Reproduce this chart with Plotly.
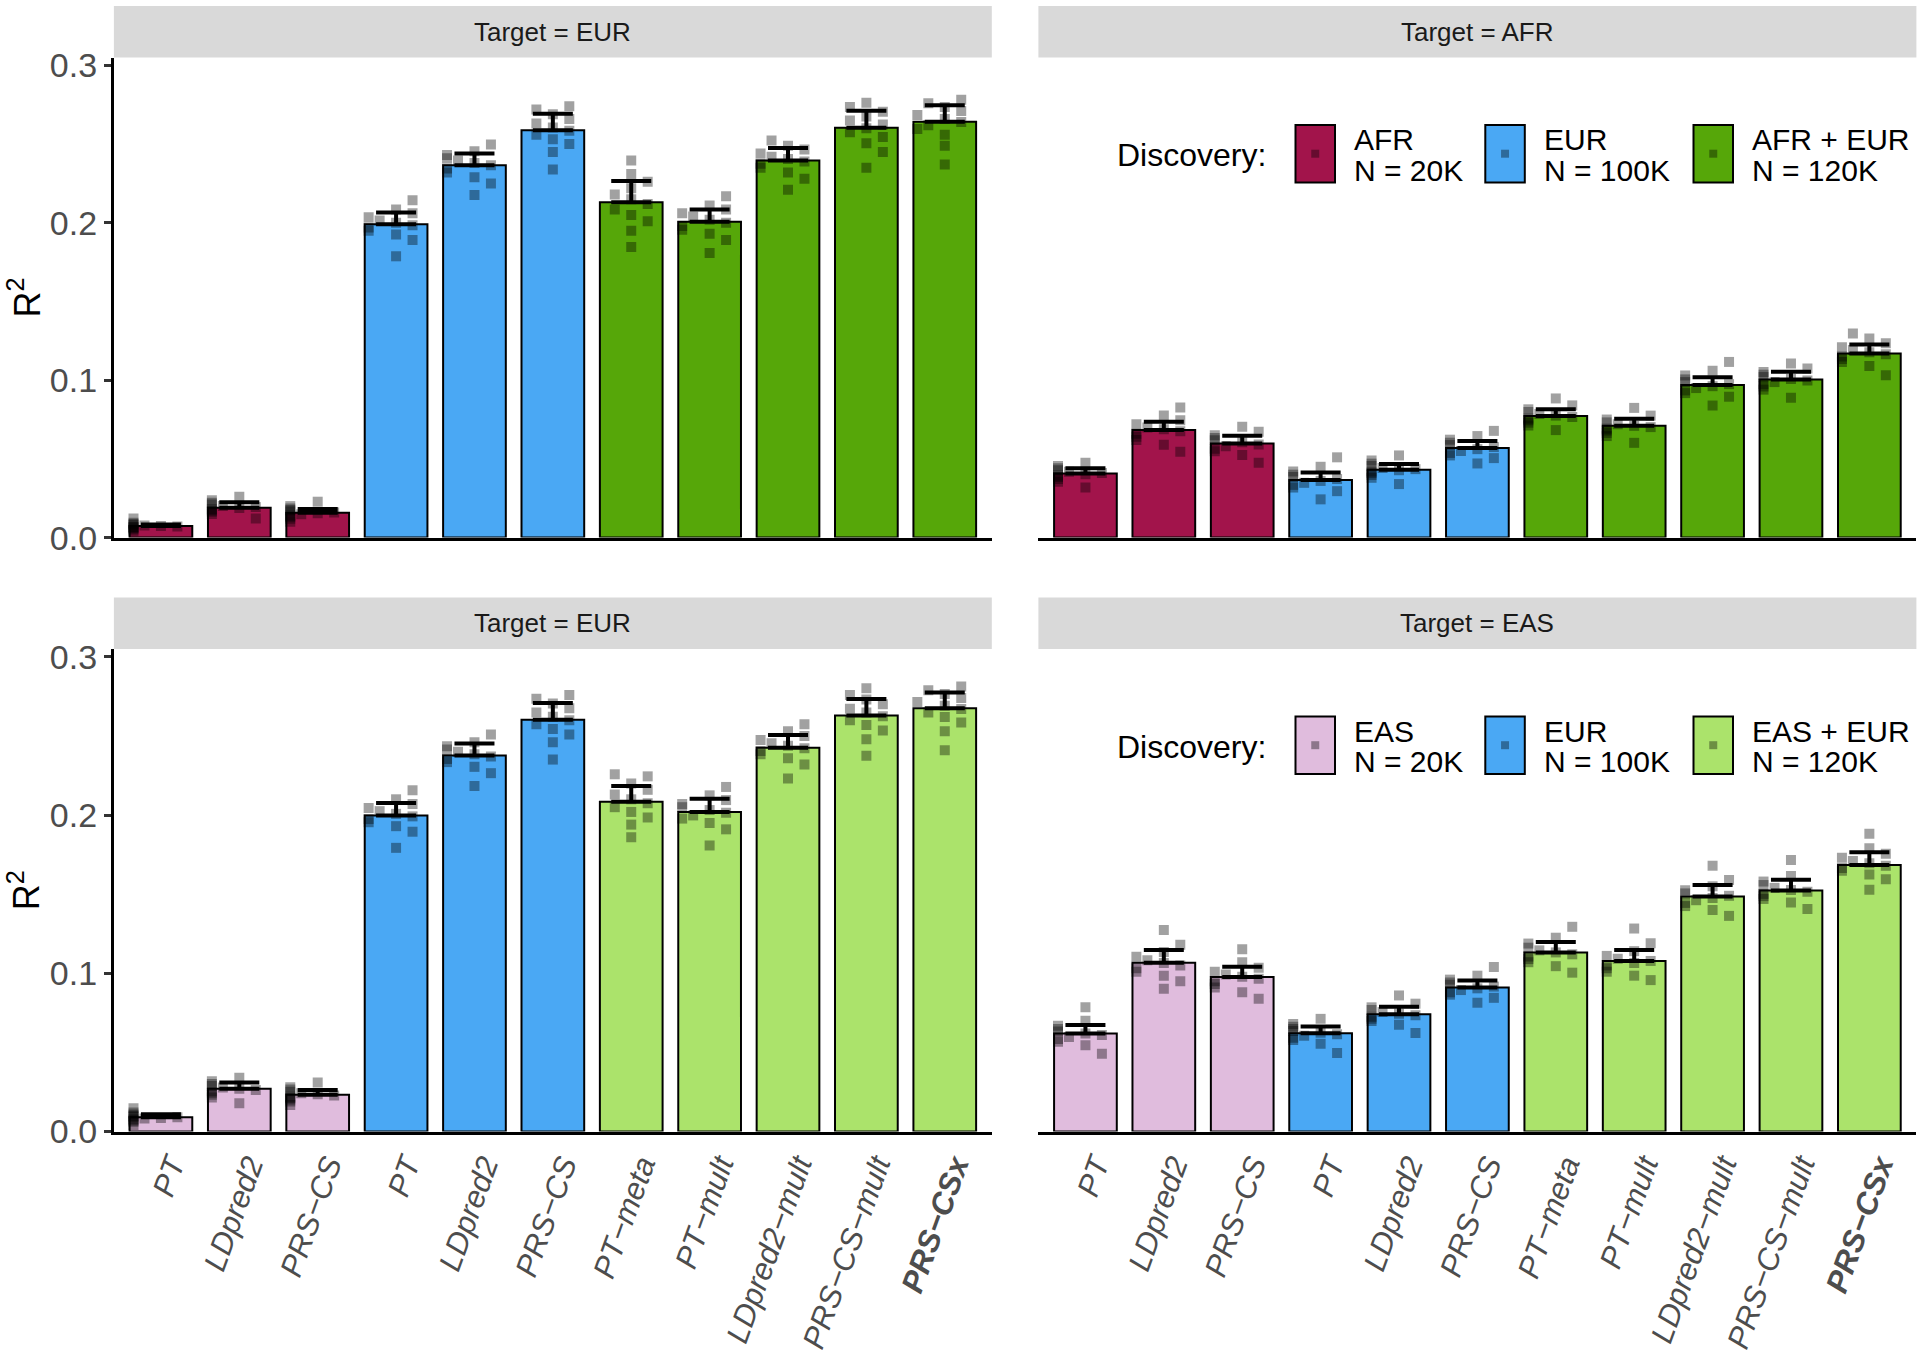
import numpy as np
import plotly.graph_objects as go

# methods along the x axis (same for all four panels)
METHODS = ["PT", "LDpred2", "PRS−CS", "PT", "LDpred2", "PRS−CS",
           "PT−meta", "PT−mult", "LDpred2−mult", "PRS−CS−mult", "PRS−CSx"]
# which discovery sample each bar uses: 0 = non-EUR only, 1 = EUR only, 2 = both
GROUP = [0, 0, 0, 1, 1, 1, 2, 2, 2, 2, 2]

# --- AFR discovery, target EUR (top left)
AFR_TEUR_R2 = [0.0074, 0.0190, 0.0158, 0.1990, 0.2365, 0.2588, 0.2131, 0.2006, 0.2396, 0.2604, 0.2642]
AFR_TEUR_UP = [0.0084, 0.0224, 0.0181, 0.2065, 0.2440, 0.2693, 0.2265, 0.2085, 0.2475, 0.2712, 0.2747]
AFR_TEUR_REPS = [
    [0.0122, 0.0094, 0.0086, 0.0080, 0.0077, 0.0074, 0.0071, 0.0068, 0.0064, 0.0060, 0.0052, 0.0040],
    [0.0260, 0.0238, 0.0222, 0.0210, 0.0200, 0.0194, 0.0188, 0.0180, 0.0172, 0.0164, 0.0150, 0.0122],
    [0.0228, 0.0200, 0.0185, 0.0175, 0.0166, 0.0160, 0.0154, 0.0148, 0.0140, 0.0132, 0.0120, 0.0101],
    [0.2143, 0.2085, 0.2060, 0.2035, 0.2015, 0.2000, 0.1985, 0.1970, 0.1950, 0.1925, 0.1890, 0.1787],
    [0.2498, 0.2455, 0.2430, 0.2410, 0.2395, 0.2380, 0.2365, 0.2345, 0.2320, 0.2290, 0.2250, 0.2176],
    [0.2741, 0.2720, 0.2690, 0.2660, 0.2630, 0.2605, 0.2585, 0.2560, 0.2530, 0.2500, 0.2450, 0.2339],
    [0.2396, 0.2310, 0.2260, 0.2220, 0.2180, 0.2150, 0.2120, 0.2085, 0.2050, 0.2010, 0.1950, 0.1846],
    [0.2168, 0.2110, 0.2085, 0.2060, 0.2040, 0.2020, 0.2000, 0.1980, 0.1955, 0.1930, 0.1890, 0.1808],
    [0.2523, 0.2490, 0.2465, 0.2440, 0.2420, 0.2405, 0.2390, 0.2375, 0.2350, 0.2320, 0.2280, 0.2210],
    [0.2762, 0.2735, 0.2705, 0.2675, 0.2650, 0.2625, 0.2600, 0.2575, 0.2545, 0.2505, 0.2450, 0.2350],
    [0.2782, 0.2760, 0.2735, 0.2710, 0.2685, 0.2660, 0.2640, 0.2620, 0.2595, 0.2560, 0.2490, 0.2371],
]

# --- AFR discovery, target AFR (top right)
AFR_TAFR_R2 = [0.0408, 0.0683, 0.0598, 0.0366, 0.0431, 0.0569, 0.0772, 0.0710, 0.0970, 0.1004, 0.1170]
AFR_TAFR_UP = [0.0440, 0.0736, 0.0647, 0.0414, 0.0467, 0.0613, 0.0816, 0.0755, 0.1019, 0.1053, 0.1227]
AFR_TAFR_REPS = [
    [0.0475, 0.0455, 0.0440, 0.0428, 0.0418, 0.0410, 0.0402, 0.0394, 0.0385, 0.0372, 0.0355, 0.0319],
    [0.0827, 0.0775, 0.0745, 0.0720, 0.0700, 0.0688, 0.0675, 0.0660, 0.0640, 0.0620, 0.0590, 0.0545],
    [0.0704, 0.0672, 0.0650, 0.0632, 0.0618, 0.0605, 0.0592, 0.0580, 0.0565, 0.0548, 0.0525, 0.0475],
    [0.0510, 0.0450, 0.0420, 0.0400, 0.0385, 0.0372, 0.0360, 0.0348, 0.0335, 0.0318, 0.0295, 0.0243],
    [0.0522, 0.0490, 0.0470, 0.0455, 0.0442, 0.0435, 0.0428, 0.0420, 0.0410, 0.0398, 0.0380, 0.0340],
    [0.0678, 0.0645, 0.0622, 0.0603, 0.0588, 0.0575, 0.0562, 0.0550, 0.0538, 0.0522, 0.0505, 0.0471],
    [0.0884, 0.0840, 0.0815, 0.0798, 0.0785, 0.0775, 0.0766, 0.0756, 0.0745, 0.0730, 0.0712, 0.0683],
    [0.0824, 0.0775, 0.0750, 0.0732, 0.0720, 0.0710, 0.0702, 0.0692, 0.0680, 0.0665, 0.0645, 0.0602],
    [0.1116, 0.1060, 0.1030, 0.1005, 0.0988, 0.0975, 0.0962, 0.0950, 0.0935, 0.0918, 0.0895, 0.0839],
    [0.1106, 0.1075, 0.1052, 0.1035, 0.1020, 0.1008, 0.0998, 0.0988, 0.0975, 0.0960, 0.0940, 0.0888],
    [0.1297, 0.1265, 0.1235, 0.1210, 0.1192, 0.1178, 0.1165, 0.1150, 0.1135, 0.1115, 0.1090, 0.1032],
]

# --- EAS discovery, target EUR (bottom left)
EAS_TEUR_R2 = [0.0090, 0.0270, 0.0232, 0.1998, 0.2377, 0.2603, 0.2085, 0.2019, 0.2425, 0.2629, 0.2675]
EAS_TEUR_UP = [0.0109, 0.0310, 0.0263, 0.2076, 0.2453, 0.2709, 0.2184, 0.2104, 0.2506, 0.2734, 0.2775]
EAS_TEUR_REPS = [
    [0.0147, 0.0120, 0.0108, 0.0100, 0.0094, 0.0090, 0.0086, 0.0082, 0.0077, 0.0070, 0.0062, 0.0041],
    [0.0340, 0.0318, 0.0300, 0.0288, 0.0278, 0.0270, 0.0263, 0.0255, 0.0245, 0.0233, 0.0215, 0.0179],
    [0.0310, 0.0280, 0.0265, 0.0252, 0.0242, 0.0235, 0.0228, 0.0220, 0.0212, 0.0202, 0.0190, 0.0168],
    [0.2157, 0.2100, 0.2070, 0.2045, 0.2025, 0.2008, 0.1992, 0.1975, 0.1955, 0.1930, 0.1895, 0.1793],
    [0.2510, 0.2460, 0.2435, 0.2415, 0.2400, 0.2385, 0.2370, 0.2355, 0.2335, 0.2305, 0.2265, 0.2184],
    [0.2759, 0.2735, 0.2705, 0.2675, 0.2648, 0.2622, 0.2600, 0.2575, 0.2545, 0.2510, 0.2460, 0.2351],
    [0.2258, 0.2245, 0.2200, 0.2160, 0.2130, 0.2100, 0.2075, 0.2050, 0.2020, 0.1985, 0.1940, 0.1860],
    [0.2178, 0.2125, 0.2095, 0.2070, 0.2050, 0.2032, 0.2015, 0.1998, 0.1978, 0.1950, 0.1910, 0.1808],
    [0.2575, 0.2530, 0.2500, 0.2475, 0.2455, 0.2438, 0.2422, 0.2405, 0.2385, 0.2360, 0.2320, 0.2231],
    [0.2802, 0.2760, 0.2730, 0.2700, 0.2672, 0.2648, 0.2625, 0.2600, 0.2570, 0.2535, 0.2480, 0.2375],
    [0.2813, 0.2790, 0.2765, 0.2740, 0.2715, 0.2692, 0.2670, 0.2648, 0.2620, 0.2585, 0.2530, 0.2410],
]

# --- EAS discovery, target EAS (bottom right)
EAS_TEAS_R2 = [0.0619, 0.1067, 0.0976, 0.0621, 0.0741, 0.0911, 0.1131, 0.1078, 0.1486, 0.1524, 0.1685]
EAS_TEAS_UP = [0.0674, 0.1147, 0.1042, 0.0663, 0.0788, 0.0955, 0.1198, 0.1147, 0.1558, 0.1592, 0.1765]
EAS_TEAS_REPS = [
    [0.0786, 0.0700, 0.0668, 0.0648, 0.0632, 0.0620, 0.0610, 0.0598, 0.0585, 0.0568, 0.0545, 0.0492],
    [0.1274, 0.1180, 0.1135, 0.1105, 0.1082, 0.1065, 0.1050, 0.1032, 0.1010, 0.0985, 0.0950, 0.0902],
    [0.1152, 0.1070, 0.1035, 0.1010, 0.0992, 0.0978, 0.0965, 0.0950, 0.0932, 0.0910, 0.0880, 0.0839],
    [0.0712, 0.0680, 0.0662, 0.0648, 0.0636, 0.0625, 0.0615, 0.0605, 0.0592, 0.0578, 0.0555, 0.0496],
    [0.0860, 0.0808, 0.0785, 0.0768, 0.0755, 0.0745, 0.0735, 0.0725, 0.0712, 0.0698, 0.0675, 0.0623],
    [0.1040, 0.0985, 0.0960, 0.0942, 0.0928, 0.0916, 0.0905, 0.0894, 0.0880, 0.0865, 0.0845, 0.0814],
    [0.1294, 0.1225, 0.1188, 0.1162, 0.1145, 0.1132, 0.1120, 0.1106, 0.1090, 0.1070, 0.1045, 0.1004],
    [0.1283, 0.1190, 0.1140, 0.1110, 0.1092, 0.1078, 0.1065, 0.1050, 0.1032, 0.1010, 0.0985, 0.0957],
    [0.1680, 0.1590, 0.1550, 0.1525, 0.1505, 0.1490, 0.1476, 0.1462, 0.1445, 0.1425, 0.1400, 0.1363],
    [0.1717, 0.1615, 0.1580, 0.1558, 0.1540, 0.1527, 0.1515, 0.1502, 0.1488, 0.1470, 0.1448, 0.1406],
    [0.1882, 0.1790, 0.1755, 0.1730, 0.1710, 0.1695, 0.1680, 0.1665, 0.1648, 0.1625, 0.1595, 0.1528],
]

AFR_LEGEND = [("AFR", "N = 20K"), ("EUR", "N = 100K"), ("AFR + EUR", "N = 120K")]
EAS_LEGEND = [("EAS", "N = 20K"), ("EUR", "N = 100K"), ("EAS + EUR", "N = 120K")]

AFR_COLS = ["#A2144B", "#4AA8F4", "#56A709"]
EAS_COLS = ["#E0BCDD", "#4AA8F4", "#ABE36B"]

W, H = 1920, 1357
FONT = "Liberation Sans, Arial, sans-serif"
YMAX = 0.305


def px(x):
    return x / W


def py(y):
    return 1 - y / H


def swarm(vals, ypx=1576.0, xpx=78.4, gap=11.0, step=0.07, lim=0.42):
    # simple beeswarm so that close values spread sideways
    vals = list(vals)
    med = np.median(vals)
    order = sorted(range(len(vals)), key=lambda i: abs(vals[i] - med))
    cands = [0.0]
    k = 1
    while k * step <= lim:
        cands += [k * step, -k * step]
        k += 1
    offs = [0.0] * len(vals)
    placed = []
    for i in order:
        pick = cands[-1]
        for c in cands:
            if all(abs(c - o) * xpx >= gap or abs(vals[i] - v) * ypx >= gap for o, v in placed):
                pick = c
                break
        offs[i] = pick
        placed.append((pick, vals[i]))
    return offs


panels = [
    # axis suffix, x extent (px), y extent (px), strip label, heights, caps, reps, colours, legend
    ("", (113.9, 991.8), (57.5, 537.6), "Target = EUR", AFR_TEUR_R2, AFR_TEUR_UP, AFR_TEUR_REPS, AFR_COLS, None),
    ("2", (1038.4, 1916.4), (57.5, 537.6), "Target = AFR", AFR_TAFR_R2, AFR_TAFR_UP, AFR_TAFR_REPS, AFR_COLS, AFR_LEGEND),
    ("3", (113.9, 991.8), (649.0, 1131.5), "Target = EUR", EAS_TEUR_R2, EAS_TEUR_UP, EAS_TEUR_REPS, EAS_COLS, None),
    ("4", (1038.4, 1916.4), (649.0, 1131.5), "Target = EAS", EAS_TEAS_R2, EAS_TEAS_UP, EAS_TEAS_REPS, EAS_COLS, EAS_LEGEND),
]

fig = go.Figure()
shapes = []
annotations = []
layout = {}

ticktext = []
for m in METHODS:
    if m == "PRS−CSx":
        ticktext.append("<b><i>%s</i></b>" % m)
    else:
        ticktext.append("<i>%s</i>" % m)

for k, (sfx, xd, yd, strip, r2, up, reps, cols, leg) in enumerate(panels):
    xa, ya = "x" + sfx, "y" + sfx
    xs = list(range(len(METHODS)))
    fig.add_trace(go.Bar(
        x=xs, y=r2, width=0.8, xaxis=xa, yaxis=ya,
        marker=dict(color=[cols[g] for g in GROUP], line=dict(color="black", width=2)),
        error_y=dict(type="data", symmetric=False,
                     array=[u - v for u, v in zip(up, r2)], arrayminus=[0] * len(r2),
                     color="black", thickness=4, width=20),
        showlegend=False, hoverinfo="skip",
    ))
    px_x, px_y = [], []
    for i, vals in enumerate(reps):
        for o, v in zip(swarm(vals), vals):
            px_x.append(i + o)
            px_y.append(v)
    fig.add_trace(go.Scatter(
        x=px_x, y=px_y, mode="markers", xaxis=xa, yaxis=ya,
        marker=dict(symbol="square", size=10, color="rgba(0,0,0,0.37)", line=dict(width=0)),
        showlegend=False, hoverinfo="skip",
    ))

    left = sfx in ("", "3")
    bottom = sfx in ("3", "4")
    layout["xaxis" + sfx] = dict(
        domain=[px(xd[0]), px(xd[1])], anchor=ya, range=[-0.6, 10.6],
        showgrid=False, zeroline=False, showline=True, linecolor="black", linewidth=3,
        ticks="", tickmode="array", tickvals=list(range(len(METHODS))), ticktext=ticktext,
        showticklabels=bottom, tickangle=-70, ticklabelshift=10,
        tickfont=dict(family=FONT, size=31, color="#4D4D4D"), automargin=False,
    )
    layout["yaxis" + sfx] = dict(
        domain=[py(yd[1]), py(yd[0])], anchor=xa, range=[0, YMAX],
        showgrid=False, zeroline=False, showline=left, linecolor="black", linewidth=3,
        ticks="outside" if left else "", ticklen=7, tickwidth=2.5, tickcolor="#333333",
        tickvals=[0, 0.1, 0.2, 0.3], tickformat=".1f", showticklabels=left,
        tickfont=dict(family=FONT, size=34, color="#4D4D4D"), automargin=False,
    )

    # facet strip
    shapes.append(dict(type="rect", xref="paper", yref="paper",
                       x0=px(xd[0]), x1=px(xd[1]), y0=py(yd[0]), y1=py(yd[0] - 51.5),
                       fillcolor="#D9D9D9", line=dict(width=0), layer="below"))
    annotations.append(dict(xref="paper", yref="paper", x=px((xd[0] + xd[1]) / 2),
                            y=py(yd[0] - 25.7), text=strip, showarrow=False,
                            xanchor="center", yanchor="middle",
                            font=dict(family=FONT, size=26, color="#1A1A1A")))

    if left:
        annotations.append(dict(xref="paper", yref="paper", x=px(24), y=py((yd[0] + yd[1]) / 2),
                                text="R<sup>2</sup>", textangle=-90, showarrow=False,
                                xanchor="center", yanchor="middle",
                                font=dict(family=FONT, size=36, color="black")))

    if leg is not None:
        dy = yd[0] - 57.5
        annotations.append(dict(xref="paper", yref="paper", x=px(1268), y=py(155 + dy),
                                text="Discovery:", showarrow=False,
                                xanchor="right", yanchor="middle",
                                font=dict(family=FONT, size=32, color="black")))
        for j, (l1, l2) in enumerate(leg):
            bx = [1295.5, 1485.3, 1693.5][j]
            shapes.append(dict(type="rect", xref="paper", yref="paper",
                               x0=px(bx), x1=px(bx + 39.5), y0=py(182.5 + dy), y1=py(125 + dy),
                               fillcolor=cols[j], line=dict(color="black", width=2)))
            cx, cy = bx + 19.75, 153.7 + dy
            shapes.append(dict(type="rect", xref="paper", yref="paper",
                               x0=px(cx - 4), x1=px(cx + 4), y0=py(cy + 4), y1=py(cy - 4),
                               fillcolor="rgba(0,0,0,0.37)", line=dict(width=0)))
            annotations.append(dict(xref="paper", yref="paper", x=px(bx + 56.5), y=py(139.6 + dy),
                                    text=l1, showarrow=False, xanchor="left", yanchor="middle",
                                    font=dict(family=FONT, size=30, color="black")))
            annotations.append(dict(xref="paper", yref="paper", x=px(bx + 56.5), y=py(170.2 + dy),
                                    text=l2, showarrow=False, xanchor="left", yanchor="middle",
                                    font=dict(family=FONT, size=30, color="black")))

fig.update_layout(
    width=W, height=H, margin=dict(l=0, r=0, t=0, b=0),
    paper_bgcolor="white", plot_bgcolor="white",
    font=dict(family=FONT), showlegend=False,
    shapes=shapes, annotations=annotations, **layout,
)

# the page body has an 8px default margin; drop it so the figure sits at 0,0
fig.write_html("out.html", config={"displayModeBar": False},
               post_script="document.body.style.margin='0';")
